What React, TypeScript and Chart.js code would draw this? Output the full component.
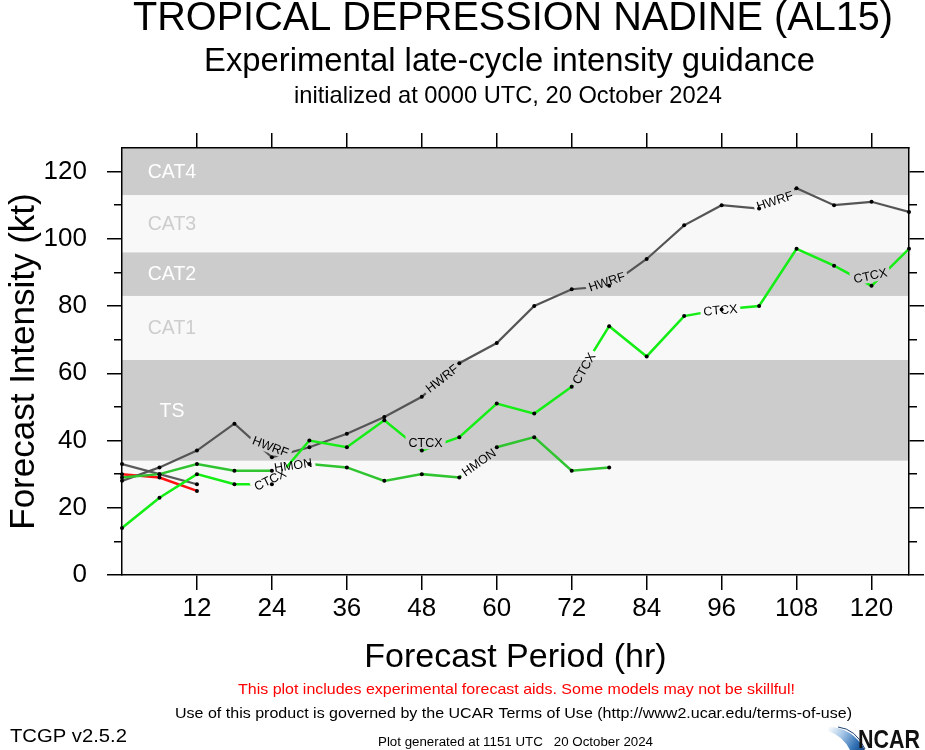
import React, { useEffect, useRef } from 'react';
import { Chart, registerables } from 'chart.js';

Chart.register(...registerables);

// ---------------- data ----------------
const HOURS = [0, 6, 12, 18, 24, 30, 36, 42, 48, 54, 60, 66, 72, 78, 84, 90, 96, 102, 108, 114, 120, 126];
const HWRF = [28, 32, 37, 45, 35, 38, 42, 47, 53, 63, 69, 80, 85, 86, 94, 104, 110, 109, 115, 110, 111, 108];
const CTCX = [14, 23, 30, 27, 27, 40, 38, 46, 37, 41, 51, 48, 56, 74, 65, 77, 79, 80, 97, 92, 86, 97];
const HMON = [29, 30, 33, 31, 31, 33, 32, 28, 30, 29, 38, 41, 31, 32];
const RED_AID = [30, 29, 25];
const GRAY_AID = [33, 30, 27];

const X_TICKS = [12, 24, 36, 48, 60, 72, 84, 96, 108, 120];
const Y_TICKS = [0, 20, 40, 60, 80, 100, 120];
const Y_MINOR_TICKS = [10, 30, 50, 70, 90, 110];
const X_MIN = 0;
const X_MAX = 126;
const Y_MIN = 0;
const Y_MAX = 127;

// intensity category bands (kt)
const BAND_NAMES = ['', 'TS', 'CAT1', 'CAT2', 'CAT3', 'CAT4'];
const BAND_LOWS = [0, 34, 64, 83, 96, 113];
const BAND_HIGHS = [34, 64, 83, 96, 113, 137];
const BAND_SHADED = [false, true, false, true, false, true];
const BAND_LABEL_HOUR = 8;

// in-line model labels: series, hour, kt, rotation (deg)
const LABEL_SERIES = ['HWRF', 'HWRF', 'HWRF', 'HWRF', 'CTCX', 'CTCX', 'CTCX', 'CTCX', 'CTCX', 'HMON', 'HMON'];
const LABEL_HOURS = [23.8, 51.2, 77.6, 104.5, 23.7, 48.6, 73.9, 95.8, 119.8, 27.4, 57.1];
const LABEL_KT = [38.3, 58.5, 87.3, 111.4, 28.4, 39.5, 61.5, 78.9, 89.1, 32.7, 33.6];
const LABEL_ANGLES = [21, -38, -18, -18, -26, 0, -60, -5, -12, -8, -35];

const TITLE = 'TROPICAL DEPRESSION NADINE (AL15)';
const SUBTITLE = 'Experimental late-cycle intensity guidance';
const INIT_LINE = 'initialized at 0000 UTC, 20 October 2024';
const WARNING = 'This plot includes experimental forecast aids. Some models may not be skillful!';
const TERMS = 'Use of this product is governed by the UCAR Terms of Use (http://www2.ucar.edu/terms-of-use)';
const VERSION = 'TCGP v2.5.2';
const GENERATED = 'Plot generated at 1151 UTC   20 October 2024';

const FONT = "'Liberation Sans', Arial, Helvetica, sans-serif";

const SERIES = [
  { name: 'CTCX', values: CTCX, color: '#14ee14', width: 2.5 },
  { name: 'HMON', values: HMON, color: '#30c430', width: 2.5 },
  { name: 'HWRF', values: HWRF, color: '#555555', width: 2.2 },
  { name: 'RED', values: RED_AID, color: '#ff1010', width: 2.5 },
  { name: 'GRAY', values: GRAY_AID, color: '#5a5a5a', width: 2.2 },
];

const toPoints = (vals: number[]) => vals.map((v, i) => ({ x: HOURS[i], y: v }));

function fitText(
  ctx: CanvasRenderingContext2D,
  text: string,
  x: number,
  y: number,
  size: number,
  width: number,
  align: CanvasTextAlign,
  color: string,
  weight = 'normal'
) {
  ctx.save();
  ctx.font = `${weight} ${size}px ${FONT}`;
  const w = ctx.measureText(text).width;
  ctx.translate(x, y);
  ctx.scale(width / w, 1);
  ctx.textAlign = align;
  ctx.textBaseline = 'alphabetic';
  ctx.fillStyle = color;
  ctx.fillText(text, 0, 0);
  ctx.restore();
}

const LABEL_FONT = `12.5px ${FONT}`;

const nclPlugin = {
  id: 'ncl',
  beforeDraw(chart: any) {
    const { ctx, chartArea } = chart;
    const ys = chart.scales.y;
    const xs = chart.scales.x;
    ctx.save();
    ctx.beginPath();
    ctx.rect(chartArea.left, chartArea.top, chartArea.right - chartArea.left, chartArea.bottom - chartArea.top);
    ctx.clip();
    for (let i = 0; i < BAND_NAMES.length; i++) {
      const yTop = ys.getPixelForValue(Math.min(BAND_HIGHS[i], Y_MAX));
      const yBot = ys.getPixelForValue(BAND_LOWS[i]);
      ctx.fillStyle = BAND_SHADED[i] ? '#cccccc' : '#f8f8f8';
      ctx.fillRect(chartArea.left, yTop, chartArea.right - chartArea.left, yBot - yTop);
    }
    ctx.font = `19.5px ${FONT}`;
    ctx.textAlign = 'center';
    ctx.textBaseline = 'middle';
    for (let i = 0; i < BAND_NAMES.length; i++) {
      if (!BAND_NAMES[i]) continue;
      const mid = (BAND_LOWS[i] + Math.min(BAND_HIGHS[i], Y_MAX)) / 2;
      ctx.fillStyle = BAND_SHADED[i] ? '#ffffff' : '#cdcdcd';
      ctx.fillText(BAND_NAMES[i], xs.getPixelForValue(BAND_LABEL_HOUR), ys.getPixelForValue(mid) + 1);
    }
    ctx.restore();
  },
  beforeDatasetDraw(chart: any, args: any) {
    const ds = chart.data.datasets[args.index];
    if (!ds.seriesLine) return;
    const { ctx } = chart;
    const xs = chart.scales.x;
    const ys = chart.scales.y;
    ctx.save();
    ctx.beginPath();
    ctx.rect(0, 0, chart.width, chart.height);
    ctx.font = LABEL_FONT;
    for (let i = 0; i < LABEL_SERIES.length; i++) {
      if (LABEL_SERIES[i] !== ds.seriesLine) continue;
      const cx = xs.getPixelForValue(LABEL_HOURS[i]);
      const cy = ys.getPixelForValue(LABEL_KT[i]);
      const a = (LABEL_ANGLES[i] * Math.PI) / 180;
      const hw = ctx.measureText(LABEL_SERIES[i]).width / 2 + 3;
      const hh = 7;
      const c = Math.cos(a);
      const s = Math.sin(a);
      const pts = [
        [-hw, -hh],
        [hw, -hh],
        [hw, hh],
        [-hw, hh],
      ].map(([px, py]) => [cx + px * c - py * s, cy + px * s + py * c]);
      ctx.moveTo(pts[0][0], pts[0][1]);
      for (let k = 1; k < 4; k++) ctx.lineTo(pts[k][0], pts[k][1]);
      ctx.closePath();
    }
    ctx.clip('evenodd');
  },
  afterDatasetDraw(chart: any, args: any) {
    const ds = chart.data.datasets[args.index];
    if (!ds.seriesLine) return;
    chart.ctx.restore();
  },
  afterDatasetsDraw(chart: any) {
    const { ctx } = chart;
    const xs = chart.scales.x;
    const ys = chart.scales.y;
    ctx.save();
    ctx.font = LABEL_FONT;
    ctx.fillStyle = '#000';
    ctx.textAlign = 'center';
    ctx.textBaseline = 'middle';
    for (let i = 0; i < LABEL_SERIES.length; i++) {
      ctx.save();
      ctx.translate(xs.getPixelForValue(LABEL_HOURS[i]), ys.getPixelForValue(LABEL_KT[i]));
      ctx.rotate((LABEL_ANGLES[i] * Math.PI) / 180);
      ctx.fillText(LABEL_SERIES[i], 0, 1);
      ctx.restore();
    }
    ctx.restore();
  },
  afterDraw(chart: any) {
    const { ctx } = chart;
    fitText(ctx, TITLE, 513, 30, 40, 760, 'center', '#000');
    fitText(ctx, SUBTITLE, 509.5, 71, 33, 611, 'center', '#000');
    fitText(ctx, INIT_LINE, 508, 103, 24, 428, 'center', '#000');
    fitText(ctx, WARNING, 516.5, 694, 15, 557, 'center', '#ff0000');
    fitText(ctx, TERMS, 513.5, 718, 15, 677, 'center', '#000');
    fitText(ctx, VERSION, 10, 742, 18, 117, 'left', '#000');
    fitText(ctx, GENERATED, 515.5, 746, 12, 275, 'center', '#000');

    // NCAR logo
    ctx.save();
    const g = ctx.createLinearGradient(828, 727, 866, 749);
    g.addColorStop(0, 'rgba(255,255,255,1)');
    g.addColorStop(0.35, '#a9c9e8');
    g.addColorStop(0.75, '#2f6fb3');
    g.addColorStop(1, '#123f78');
    ctx.fillStyle = g;
    ctx.beginPath();
    ctx.moveTo(828, 727);
    ctx.quadraticCurveTo(852, 727, 865, 750);
    ctx.lineTo(850, 750);
    ctx.quadraticCurveTo(843, 736, 828, 731);
    ctx.closePath();
    ctx.fill();
    ctx.strokeStyle = '#1d3f6e';
    ctx.lineWidth = 1;
    ctx.beginPath();
    ctx.moveTo(838, 727);
    ctx.quadraticCurveTo(856, 729, 865, 749);
    ctx.stroke();
    ctx.restore();
    fitText(ctx, 'NCAR', 858, 748, 26, 62, 'left', '#111', 'bold');
  },
};

function makeTicks(values: number[]) {
  return (scale: any) => {
    scale.ticks = values.map((v) => ({ value: v }));
  };
}

const tickGrid = (len: number) => ({
  display: true,
  drawOnChartArea: false,
  drawTicks: true,
  tickLength: len,
  tickColor: '#000',
  tickWidth: 1.5,
  lineWidth: 1.5,
  color: '#000',
});

export default function App() {
  const ref = useRef<HTMLCanvasElement>(null);

  useEffect(() => {
    document.body.style.margin = '0';
    const datasets: any[] = [];
    SERIES.forEach((s) => {
      datasets.push({
        label: s.name + ' points',
        data: toPoints(s.values),
        showLine: false,
        pointRadius: 2,
        pointHoverRadius: 2,
        pointBackgroundColor: '#000',
        pointBorderWidth: 0,
        borderColor: '#000',
        order: 1,
        clip: false,
        xAxisID: 'x',
        yAxisID: 'y',
      });
    });
    SERIES.forEach((s) => {
      datasets.push({
        label: s.name,
        seriesLine: s.name,
        data: toPoints(s.values),
        borderColor: s.color,
        borderWidth: s.width,
        pointRadius: 0,
        pointHoverRadius: 0,
        tension: 0,
        fill: false,
        order: 2,
        xAxisID: 'x',
        yAxisID: 'y',
      });
    });

    const chart = new Chart(ref.current as HTMLCanvasElement, {
      type: 'line',
      data: { datasets },
      plugins: [nclPlugin as any],
      options: {
        responsive: false,
        animation: false,
        events: [],
        layout: { padding: { top: 148, bottom: 75, left: 0, right: 16 } },
        plugins: {
          legend: { display: false },
          tooltip: { enabled: false },
          title: { display: false },
        },
        scales: {
          x: {
            type: 'linear',
            position: 'bottom',
            min: X_MIN,
            max: X_MAX,
            afterBuildTicks: makeTicks(X_TICKS),
            afterFit: (s: any) => {
              s.height = 100;
            },
            ticks: {
              color: '#000',
              font: { family: FONT, size: 26 },
              padding: 3,
              maxRotation: 0,
              autoSkip: false,
            },
            grid: tickGrid(15),
            border: { display: true, color: '#000', width: 1.5 },
            title: {
              display: true,
              text: 'Forecast Period (hr)',
              color: '#000',
              font: { family: FONT, size: 34 },
              padding: { top: 0, bottom: -3 },
            },
          },
          y: {
            type: 'linear',
            position: 'left',
            weight: 1,
            min: Y_MIN,
            max: Y_MAX,
            afterBuildTicks: makeTicks(Y_TICKS),
            afterFit: (s: any) => {
              s.width = 122;
            },
            ticks: {
              color: '#000',
              font: { family: FONT, size: 26 },
              padding: 20,
              autoSkip: false,
            },
            grid: tickGrid(15),
            border: { display: true, color: '#000', width: 1.5 },
            title: {
              display: true,
              text: 'Forecast Intensity (kt)',
              color: '#000',
              font: { family: FONT, size: 35 },
              padding: { top: 3, bottom: 0 },
            },
          },
          yMinor: {
            type: 'linear',
            position: 'left',
            weight: 0,
            min: Y_MIN,
            max: Y_MAX,
            afterBuildTicks: makeTicks(Y_MINOR_TICKS),
            afterFit: (s: any) => {
              s.width = 0;
            },
            ticks: { display: false },
            grid: tickGrid(8),
            border: { display: false },
          },
          yRight: {
            type: 'linear',
            position: 'right',
            weight: 0,
            min: Y_MIN,
            max: Y_MAX,
            afterBuildTicks: makeTicks(Y_TICKS),
            afterFit: (s: any) => {
              s.width = 0;
            },
            ticks: { display: false },
            grid: tickGrid(15),
            border: { display: true, color: '#000', width: 1.5 },
          },
          yRightMinor: {
            type: 'linear',
            position: 'right',
            weight: 1,
            min: Y_MIN,
            max: Y_MAX,
            afterBuildTicks: makeTicks(Y_MINOR_TICKS),
            afterFit: (s: any) => {
              s.width = 0;
            },
            ticks: { display: false },
            grid: tickGrid(8),
            border: { display: false },
          },
          xTop: {
            type: 'linear',
            position: 'top',
            min: X_MIN,
            max: X_MAX,
            afterBuildTicks: makeTicks(X_TICKS),
            afterFit: (s: any) => {
              s.height = 0;
            },
            ticks: { display: false },
            grid: tickGrid(15),
            border: { display: true, color: '#000', width: 1.5 },
          },
        },
      } as any,
    });
    return () => chart.destroy();
  }, []);

  return (
    <div style={{ width: 925, height: 750, background: '#fff' }}>
      <canvas ref={ref} width={925} height={750} style={{ display: 'block' }} />
    </div>
  );
}
